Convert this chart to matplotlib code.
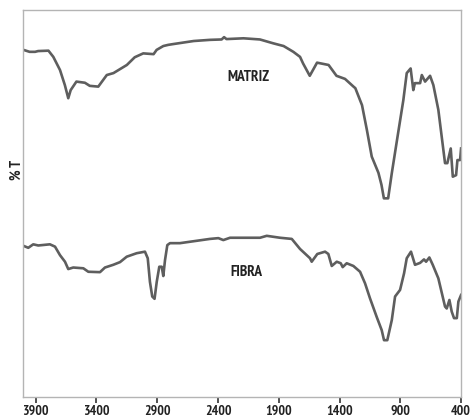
import numpy as np
import matplotlib.pyplot as plt
from matplotlib import font_manager as fm

# FTIR spectra (wavenumber in cm-1, transmittance in arbitrary %)
matriz_wn = [4000, 3950, 3905, 3880, 3795, 3755, 3700, 3660, 3632, 3612, 3565, 3495,
             3455, 3385, 3315, 3260, 3150, 3085, 3015, 2930, 2905, 2850, 2810, 2770,
             2600, 2465, 2370, 2350, 2330, 2190, 2055, 1945, 1860, 1780, 1725, 1700,
             1645, 1585, 1490, 1425, 1355, 1285, 1270, 1215, 1175, 1135, 1080, 1055,
             1035, 1000, 970, 925, 875, 847, 815, 793, 780, 737, 723, 696, 655, 628,
             587, 532, 513, 485, 468, 441, 430, 408, 400]
matriz_t = [89.8, 89.3, 89.3, 89.5, 89.6, 88.0, 84.6, 80.7, 77.3, 79.4, 81.6, 81.3,
            80.5, 80.3, 83.3, 83.8, 85.9, 87.9, 88.9, 88.7, 89.8, 90.8, 91.1, 91.3,
            92.1, 92.4, 92.5, 93.1, 92.6, 92.8, 92.5, 91.5, 90.8, 89.3, 88.0, 86.3,
            83.1, 86.5, 85.9, 83.1, 82.3, 80.3, 79.9, 75.5, 69.1, 62.2, 58.0, 54.9,
            51.4, 51.4, 57.9, 66.9, 76.8, 83.8, 85.0, 79.4, 81.2, 81.2, 83.3, 81.6,
            83.1, 80.7, 74.3, 60.5, 60.5, 64.3, 57.0, 57.4, 61.3, 61.3, 64.3]

fibra_wn = [4000, 3961, 3920, 3879, 3783, 3741, 3700, 3659, 3632, 3591, 3508, 3467,
            3371, 3330, 3262, 3206, 3151, 3069, 3001, 2978, 2960, 2941, 2922, 2904,
            2883, 2863, 2850, 2836, 2817, 2795, 2713, 2466, 2397, 2356, 2301, 2054,
            1999, 1890, 1793, 1725, 1643, 1629, 1583, 1519, 1492, 1464, 1423, 1390,
            1374, 1341, 1286, 1231, 1190, 1149, 1094, 1053, 1034, 1007, 970, 943,
            902, 869, 847, 812, 779, 737, 705, 688, 661, 633, 587, 532, 518, 496,
            477, 458, 435, 422, 400]
fibra_t = [39.1, 38.6, 39.5, 39.2, 39.5, 38.9, 36.7, 35.0, 33.1, 33.5, 33.3, 32.4,
           32.3, 33.5, 34.2, 34.9, 36.3, 37.2, 37.6, 35.9, 29.8, 26.0, 25.4, 29.8,
           33.7, 33.7, 31.3, 35.4, 39.3, 39.8, 39.8, 40.9, 41.1, 40.6, 41.2, 41.2,
           41.7, 41.2, 40.9, 38.3, 35.9, 35.0, 37.0, 37.6, 37.0, 33.9, 35.0, 34.6,
           33.6, 34.6, 33.9, 32.4, 29.4, 25.5, 20.7, 17.3, 14.7, 14.7, 19.9, 26.0,
           27.7, 32.0, 35.9, 37.6, 34.2, 34.7, 35.6, 35.0, 36.1, 34.2, 30.7, 23.4,
           22.9, 25.1, 22.1, 20.4, 20.4, 24.7, 26.4]

xticks = [3900, 3400, 2900, 2400, 1900, 1400, 900, 400]

# Arial Narrow Bold look-alike: take the first condensed family that has a bold face
bold_fams = {f.name for f in fm.fontManager.ttflist
             if (isinstance(f.weight, int) and f.weight >= 600) or f.weight == 'bold'}
wanted = ['Liberation Sans Narrow', 'Arial Narrow', 'PT Sans Narrow', 'Roboto Condensed',
          'Fira Sans Condensed', 'Archivo Narrow', 'Barlow Semi Condensed', 'Asap Condensed']
fam = ['Liberation Sans', 'DejaVu Sans']
for w in wanted:
    if w in bold_fams:
        fam = [w, 'DejaVu Sans']
        break
narrow = fam[0] != 'Liberation Sans'
lab_fs = 11 if narrow else 9.5
tick_fs = 10 if narrow else 8.5

fig = plt.figure(figsize=(4.70, 4.19), dpi=100)
ax = fig.add_axes([0.048, 0.0525, 0.933, 0.9225])

ax.plot(matriz_wn, matriz_t, color='#5e5e5e', lw=1.9)
ax.plot(fibra_wn, fibra_t, color='#5e5e5e', lw=1.9)

ax.text(2153, 82.9, 'MATRIZ', ha='center', va='center', fontsize=lab_fs,
        fontweight='bold', family=fam, color='#222222')
ax.text(2164, 32.4, 'FIBRA', ha='center', va='center', fontsize=lab_fs,
        fontweight='bold', family=fam, color='#222222')

ax.set_xlim(4008, 400)
ax.set_ylim(0, 100)
ax.set_xticks(xticks)
ax.set_xticklabels([str(t) for t in xticks], fontsize=tick_fs, fontweight='bold',
                   family=fam, color='#222222')
ax.set_yticks([])
ax.tick_params(axis='x', direction='out', length=4, width=1.2, color='#333333', pad=1.5)

for s in ax.spines.values():
    s.set_color('#b4b4b4')
    s.set_linewidth(1.0)

fig.text(17 / 470, 1 - 170 / 419, '% T', rotation=90, ha='center', va='center',
         fontsize=lab_fs - 0.5, fontweight='bold', family=fam, color='#222222')

plt.savefig('out.png', dpi=100)
